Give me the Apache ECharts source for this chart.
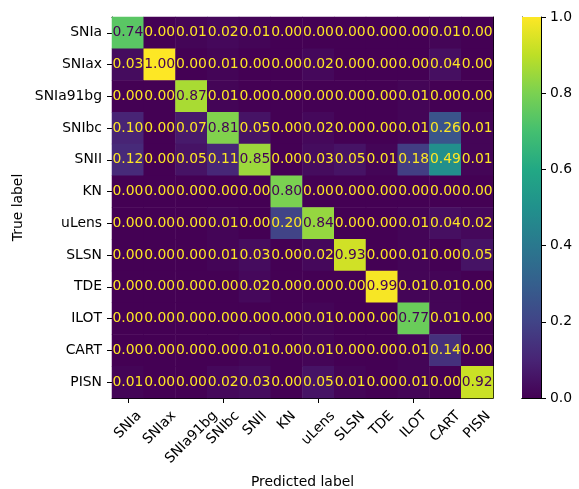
<!DOCTYPE html>
<html>
<head>
<meta charset="utf-8">
<script src="https://cdn.jsdelivr.net/npm/echarts@6/dist/echarts.min.js"></script>
<style>
  html, body { margin: 0; padding: 0; background: #fff; }
  #chart { width: 579px; height: 489px; }
</style>
</head>
<body>
<div id="chart"></div>
<script>
// Class names for both axes (true rows, predicted columns)
const classes = ['SNIa', 'SNIax', 'SNIa91bg', 'SNIbc', 'SNII', 'KN', 'uLens', 'SLSN', 'TDE', 'ILOT', 'CART', 'PISN'];

// Row-normalised confusion matrix, one array per true class
const rowSNIa     = [0.74, 0.00, 0.01, 0.02, 0.01, 0.00, 0.00, 0.00, 0.00, 0.00, 0.01, 0.00];
const rowSNIax    = [0.03, 1.00, 0.00, 0.01, 0.00, 0.00, 0.02, 0.00, 0.00, 0.00, 0.04, 0.00];
const rowSNIa91bg = [0.00, 0.00, 0.87, 0.01, 0.00, 0.00, 0.00, 0.00, 0.00, 0.01, 0.00, 0.00];
const rowSNIbc    = [0.10, 0.00, 0.07, 0.81, 0.05, 0.00, 0.02, 0.00, 0.00, 0.01, 0.26, 0.01];
const rowSNII     = [0.12, 0.00, 0.05, 0.11, 0.85, 0.00, 0.03, 0.05, 0.01, 0.18, 0.49, 0.01];
const rowKN       = [0.00, 0.00, 0.00, 0.00, 0.00, 0.80, 0.00, 0.00, 0.00, 0.00, 0.00, 0.00];
const rowULens    = [0.00, 0.00, 0.00, 0.01, 0.00, 0.20, 0.84, 0.00, 0.00, 0.01, 0.04, 0.02];
const rowSLSN     = [0.00, 0.00, 0.00, 0.01, 0.03, 0.00, 0.02, 0.93, 0.00, 0.01, 0.00, 0.05];
const rowTDE      = [0.00, 0.00, 0.00, 0.00, 0.02, 0.00, 0.00, 0.00, 0.99, 0.01, 0.01, 0.00];
const rowILOT     = [0.00, 0.00, 0.00, 0.00, 0.00, 0.00, 0.01, 0.00, 0.00, 0.77, 0.01, 0.00];
const rowCART     = [0.00, 0.00, 0.00, 0.00, 0.01, 0.00, 0.01, 0.00, 0.00, 0.01, 0.14, 0.00];
const rowPISN     = [0.01, 0.00, 0.00, 0.02, 0.03, 0.00, 0.05, 0.01, 0.00, 0.01, 0.00, 0.92];

const matrixRows = [rowSNIa, rowSNIax, rowSNIa91bg, rowSNIbc, rowSNII, rowKN,
                    rowULens, rowSLSN, rowTDE, rowILOT, rowCART, rowPISN];

// Colour-bar tick values
const colorbarTicks = [0.0, 0.2, 0.4, 0.6, 0.8, 1.0];

// Viridis colour map stops
const viridis = ['#440154', '#482475', '#414487', '#355f8d', '#2a788e', '#21918c',
                 '#22a884', '#44bf70', '#7ad151', '#bddf26', '#fde725'];

const FONT = 'DejaVu Sans';
const FS = 13.9;

const vmin = 0, vmax = 1;
const threshold = (vmin + vmax) / 2;

const cells = [];
matrixRows.forEach((row, r) => {
  row.forEach((v, c) => {
    cells.push({
      value: [c, r, v],
      label: { color: v < threshold ? viridis[viridis.length - 1] : viridis[0] }
    });
  });
});

const plot = { left: 112, top: 17, width: 381, height: 381 };
const cbar = { left: 522, top: 17, width: 19, height: 381 };

const chart = echarts.init(document.getElementById('chart'), null, { renderer: 'canvas' });

const lineOnly = { show: true, lineStyle: { color: '#000', width: 1 } };

const option = {
  backgroundColor: '#fff',
  animation: false,
  textStyle: { fontFamily: FONT },
  grid: [
    Object.assign({ containLabel: false }, plot),
    Object.assign({ containLabel: false }, cbar)
  ],
  xAxis: [
    {
      type: 'category', data: classes, gridIndex: 0, position: 'bottom',
      axisLine: lineOnly,
      axisTick: { show: true, alignWithLabel: true, length: 5, lineStyle: { color: '#000' } },
      axisLabel: { show: false },
      splitLine: { show: false }
    },
    {
      type: 'category', data: classes, gridIndex: 0, position: 'top',
      axisLine: lineOnly, axisTick: { show: false }, axisLabel: { show: false }
    },
    {
      type: 'category', data: ['bar'], gridIndex: 1, position: 'bottom',
      axisLine: lineOnly, axisTick: { show: false }, axisLabel: { show: false }
    },
    {
      type: 'category', data: ['bar'], gridIndex: 1, position: 'top',
      axisLine: lineOnly, axisTick: { show: false }, axisLabel: { show: false }
    }
  ],
  yAxis: [
    {
      type: 'category', data: classes, gridIndex: 0, inverse: true, position: 'left',
      axisLine: lineOnly,
      axisTick: { show: true, alignWithLabel: true, length: 5, lineStyle: { color: '#000' } },
      axisLabel: { show: true, color: '#000', fontSize: FS, fontFamily: FONT, margin: 10 },
      splitLine: { show: false }
    },
    {
      type: 'category', data: classes, gridIndex: 0, inverse: true, position: 'right',
      axisLine: lineOnly, axisTick: { show: false }, axisLabel: { show: false }
    },
    {
      type: 'value', gridIndex: 1, position: 'right', min: 0, max: 1, interval: 0.2,
      axisLine: lineOnly,
      axisTick: { show: true, length: 5, lineStyle: { color: '#000' } },
      axisLabel: {
        show: true, color: '#000', fontSize: FS, fontFamily: FONT, margin: 9,
        formatter: v => colorbarTicks.some(t => Math.abs(t - v) < 1e-9) ? v.toFixed(1) : ''
      },
      splitLine: { show: false }
    },
    {
      type: 'value', gridIndex: 1, position: 'left', min: 0, max: 1,
      axisLine: lineOnly, axisTick: { show: false }, axisLabel: { show: false },
      splitLine: { show: false }
    }
  ],
  visualMap: {
    show: false, type: 'continuous', min: vmin, max: vmax, dimension: 2,
    seriesIndex: 0, inRange: { color: viridis }
  },
  series: [
    {
      type: 'heatmap', xAxisIndex: 0, yAxisIndex: 0, data: cells,
      label: {
        show: true, fontSize: FS, fontFamily: FONT,
        formatter: p => p.value[2].toFixed(2)
      },
      itemStyle: { borderWidth: 0 },
      emphasis: { disabled: true }
    },
    {
      type: 'bar', xAxisIndex: 2, yAxisIndex: 2, data: [vmax], barWidth: '100%',
      itemStyle: {
        color: new echarts.graphic.LinearGradient(0, 1, 0, 0,
          viridis.map((c, i) => ({ offset: i / (viridis.length - 1), color: c })))
      },
      emphasis: { disabled: true }, silent: true
    }
  ]
};

chart.setOption(option);

// Rotated x tick labels, centred horizontally on each tick (45 degrees)
const ctx = document.createElement('canvas').getContext('2d');
ctx.font = FS + 'px ' + FONT;
const lineH = FS * 1.17;
const labelTop = plot.top + plot.height + 5 + 5;
const s45 = Math.SQRT1_2;
const graphics = classes.map((name, i) => {
  const px = chart.convertToPixel({ xAxisIndex: 0 }, name);
  const w = ctx.measureText(name).width;
  const half = (w + lineH) * s45 / 2;
  return {
    type: 'text', x: px, y: labelTop + half, rotation: Math.PI / 4,
    style: { text: name, font: FS + 'px ' + FONT, fill: '#000', align: 'center', verticalAlign: 'middle' }
  };
});
graphics.push({
  type: 'text', x: plot.left + plot.width / 2, y: 482,
  style: { text: 'Predicted label', font: FS + 'px ' + FONT, fill: '#000', align: 'center', verticalAlign: 'middle' }
});
graphics.push({
  type: 'text', x: 18, y: plot.top + plot.height / 2, rotation: Math.PI / 2,
  style: { text: 'True label', font: FS + 'px ' + FONT, fill: '#000', align: 'center', verticalAlign: 'middle' }
});
chart.setOption({ graphic: graphics });
</script>
</body>
</html>
